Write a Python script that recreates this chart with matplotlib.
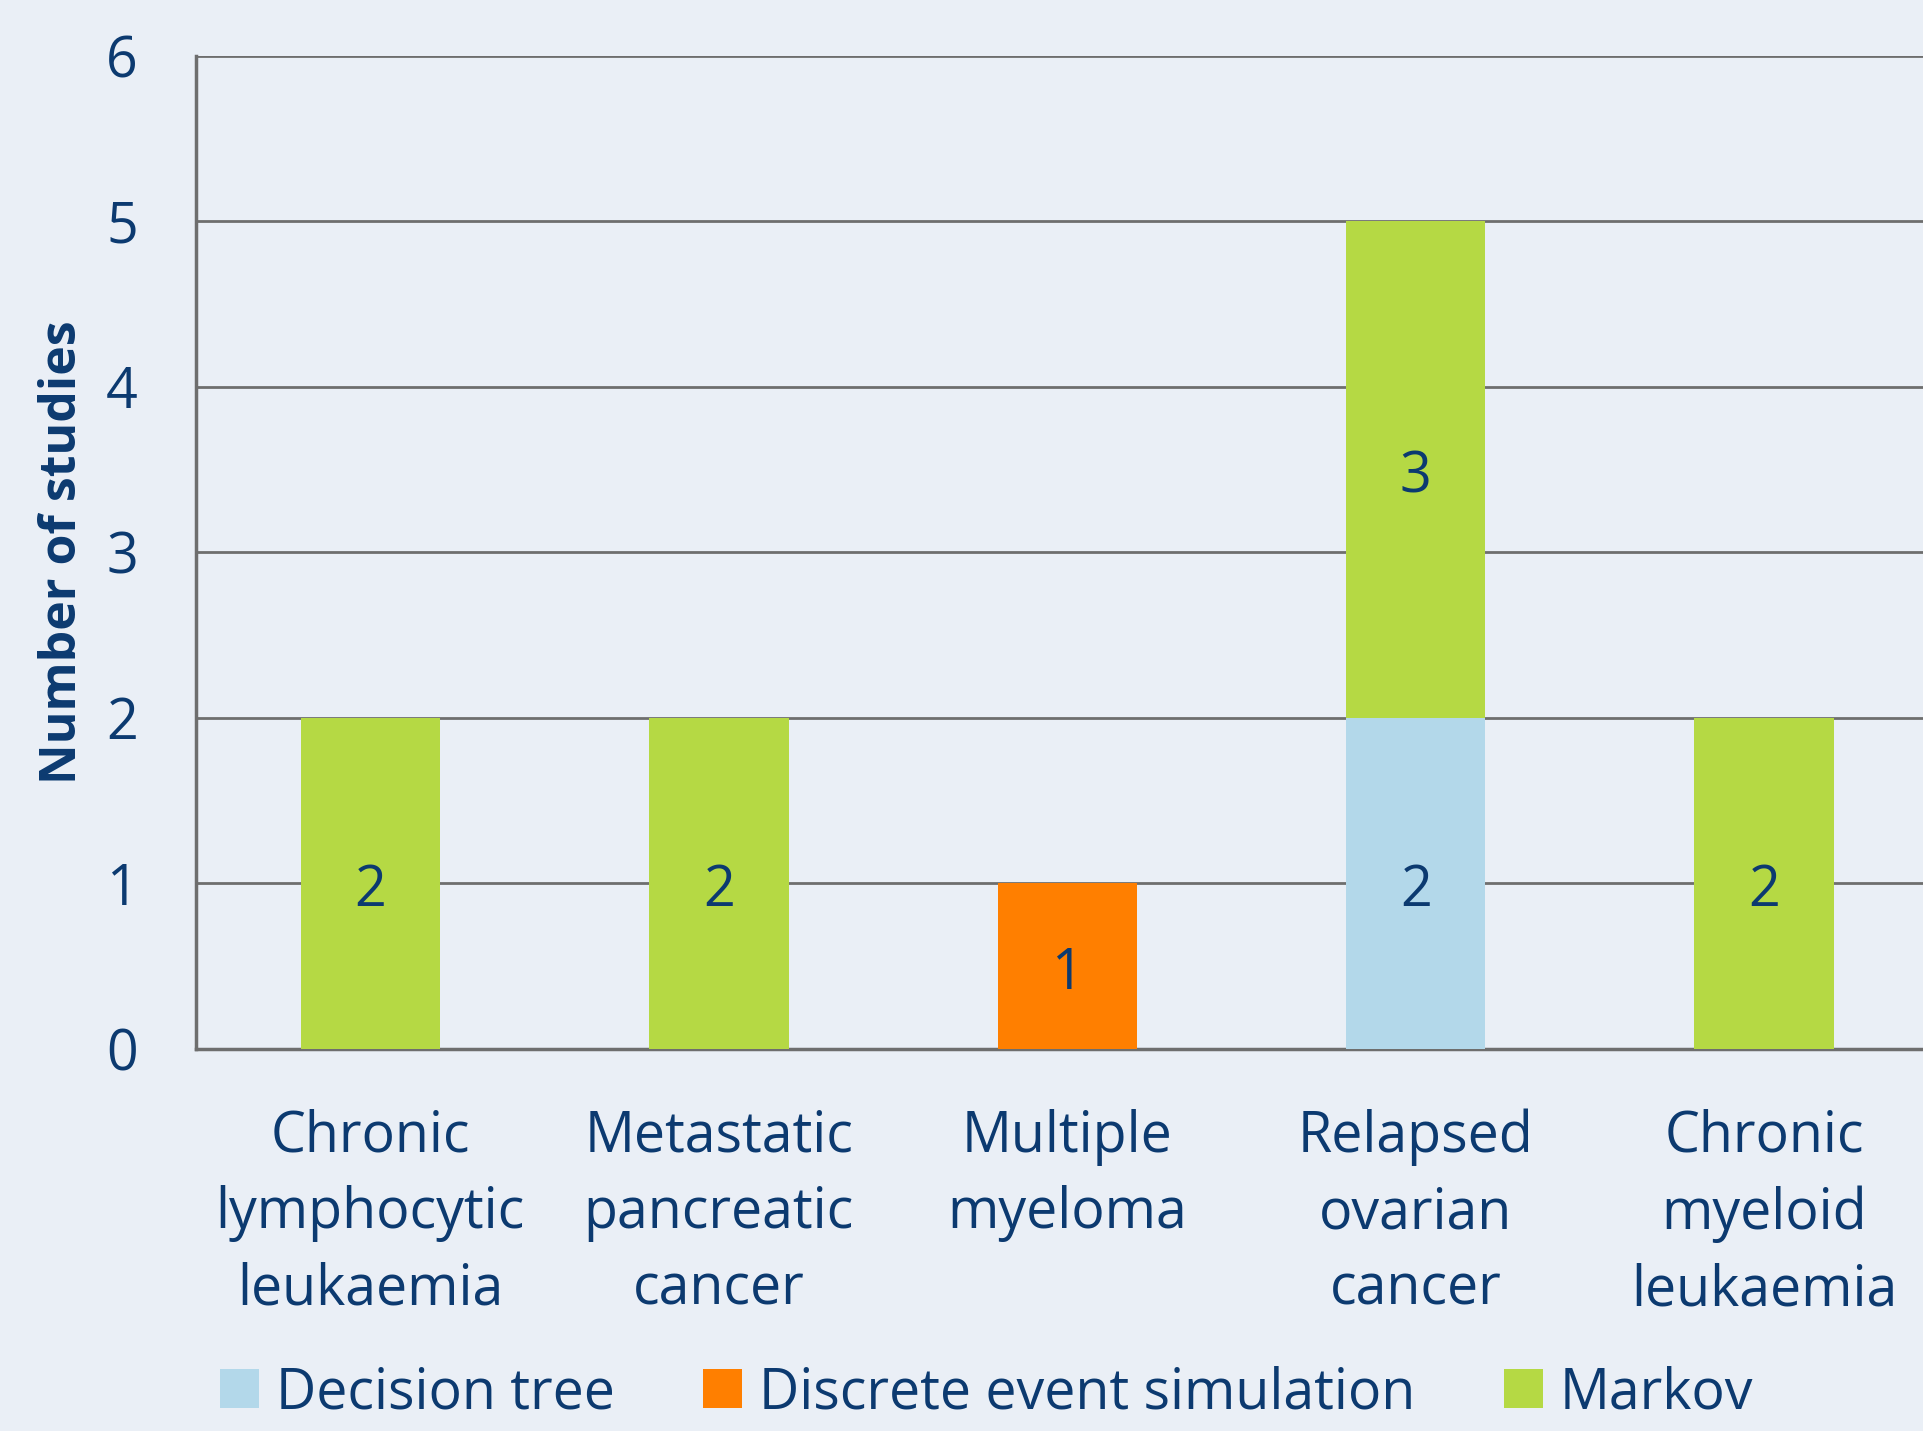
import matplotlib.pyplot as plt
import numpy as np

categories = ['Chronic\nlymphocytic\nleukaemia', 'Metastatic\npancreatic\ncancer',
              'Multiple\nmyeloma', 'Relapsed\novarian\ncancer', 'Chronic\nmyeloid\nleukaemia']
decision_tree = [0, 0, 0, 2, 0]
discrete_event = [0, 0, 1, 0, 0]
markov = [2, 2, 0, 3, 2]

series_names = ['Decision tree', 'Discrete event simulation', 'Markov']
colors = ['#B3D8EA', '#FF7F00', '#B5D944']
navy = '#0C3A70'
bg = '#EAEFF6'

plt.rcParams['font.family'] = ['Open Sans', 'DejaVu Sans']

fig = plt.figure(figsize=(19.23, 14.31), dpi=100, facecolor=bg)
ax = fig.add_axes([0.102, 0.267, 0.906, 0.694], facecolor=bg)

x = np.arange(len(categories))
bottom = np.zeros(len(categories))
for vals, name, c in zip([decision_tree, discrete_event, markov], series_names, colors):
    vals = np.array(vals)
    ax.bar(x, vals, 0.4, bottom=bottom, color=c, label=name, zorder=3)
    for xi, v, b in zip(x, vals, bottom):
        if v > 0:
            ax.annotate(str(v), (xi, b + v / 2), xytext=(0, -6),
                        textcoords='offset points', ha='center', va='center',
                        fontsize=40, color=navy, zorder=4)
    bottom += vals

ax.set_xlim(-0.5, 4.5)
ax.set_ylim(0, 6)
ax.set_yticks(range(7))
ax.grid(axis='y', color='#6E6E6E', linewidth=2, zorder=1)
for s in ['top', 'right']:
    ax.spines[s].set_visible(False)
for s in ['left', 'bottom']:
    ax.spines[s].set_color('#6E6E6E')
    ax.spines[s].set_linewidth(2.5)

ax.set_xticks(x)
ax.set_xticklabels(categories, fontsize=40, color=navy, linespacing=1.45)
ax.tick_params(axis='x', length=0, pad=43)
ax.tick_params(axis='y', length=0, pad=42, labelsize=40, labelcolor=navy)

ax.set_ylabel('Number of studies', fontsize=36, fontweight='bold', color=navy)
ax.yaxis.set_label_coords(-0.062, 0.5)

fig.legend(loc='center', bbox_to_anchor=(0.513, 0.026), ncol=3, frameon=False,
           fontsize=40, labelcolor=navy, handlelength=0.7, handleheight=0.7,
           handletextpad=0.3, columnspacing=1.6)

fig.savefig('out.png', dpi=100, facecolor=bg)
